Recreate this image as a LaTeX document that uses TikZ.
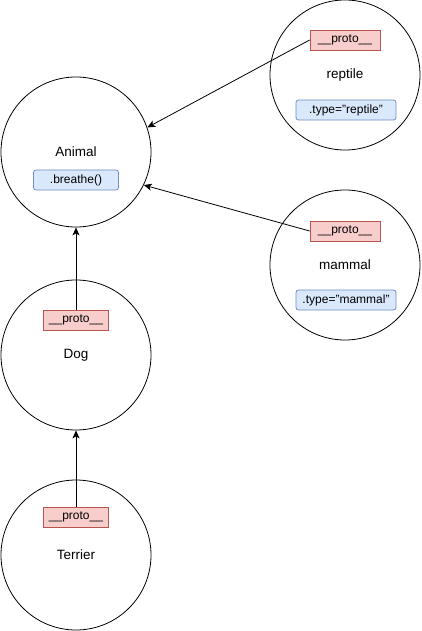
\documentclass[tikz,border=0pt]{standalone}
\usepackage{fontspec}
\setmainfont{Liberation Sans}
\usepackage{xcolor}
\usepackage{tikz}
\usetikzlibrary{positioning, calc, arrows.meta}
\definecolor{protofill}{HTML}{F8CECC}
\definecolor{protodraw}{HTML}{B85450}
\definecolor{propfill}{HTML}{DAE8FC}
\definecolor{propdraw}{HTML}{6C8EBF}
\tikzset{
    objnode/.style={
        circle, draw=black, line width=0.8pt, minimum size=150pt, inner sep=0pt,
        font=\fontsize{13.5}{16}\selectfont
    },
    protobox/.style={
        draw=protodraw, fill=protofill, line width=0.8pt, minimum width=70pt, minimum height=20pt,
        inner sep=0pt, font=\fontsize{12}{14}\selectfont
    },
    propbox/.style={
        draw=propdraw, fill=propfill, line width=0.8pt, rounded corners=2.5pt, minimum height=20pt,
        inner sep=0pt, font=\fontsize{12}{14}\selectfont
    },
    protoptr/.style={
        -{Stealth[length=8pt, width=7pt, inset=2pt]}, line width=0.8pt, black
    }
}

\begin{document}
\begin{tikzpicture}[x=1pt, y=-1pt]
    \useasboundingbox (0,0) rectangle (421,631);

    % --- CÁC ĐỐI TƯỢNG ---
    \node[objnode] (animal) at (76,152) {Animal};
    \node[objnode] (reptile) at (345,75) {reptile};
    \node[objnode] (mammal) at (345,265) {mammal};
    \node[objnode] (dog) at (76,355) {Dog};
    \node[objnode] (terrier) at (76,555) {Terrier};

    % --- THUỘC TÍNH ---
    \node[propbox, minimum width=85pt] (breathe) at (76,180) {.breathe()};
    \node[propbox, minimum width=100pt] (rtype) at (346,110) {.type="reptile"};
    \node[propbox, minimum width=100pt] (mtype) at (346,300) {.type="mammal"};

    % --- __proto__ ---
    \node[protobox] (rproto) at (345,40) {\_\_proto\_\_};
    \node[protobox] (mproto) at (345,231) {\_\_proto\_\_};
    \node[protobox, minimum width=65pt] (dproto) at (76,320) {\_\_proto\_\_};
    \node[protobox, minimum width=65pt] (tproto) at (76,517) {\_\_proto\_\_};

    % --- LIÊN KẾT ---
    \draw[protoptr] (rproto.west) -- (animal.19);
    \draw[protoptr] (mproto.west) -- (animal.-26);
    \draw[protoptr] (dproto.north) -- (animal.south);
    \draw[protoptr] (tproto.north) -- (dog.south);
\end{tikzpicture}
\end{document}
